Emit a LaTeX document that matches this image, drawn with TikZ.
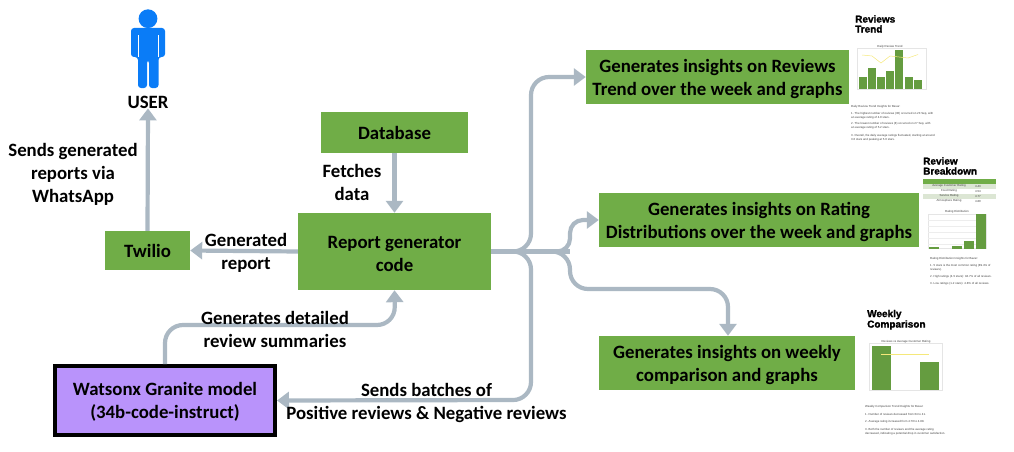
\documentclass[tikz,border=0pt]{standalone}
\usepackage{fontspec}
\setmainfont{Carlito}
\newfontfamily\thumbfont[BoldFeatures={FakeBold=1.6}]{Liberation Sans}
\usetikzlibrary{arrows.meta}
\definecolor{boxgreen}{HTML}{70AD47}
\definecolor{linkgrey}{HTML}{ABB8C3}
\definecolor{userblue}{HTML}{0A7CF7}
\definecolor{modelpurple}{HTML}{B993FB}
\definecolor{linegold}{HTML}{F5E87A}
\definecolor{rowgreen}{HTML}{DCE6D4}
\newcommand{\boxstrut}{\rule{0pt}{16.5pt}}
\tikzset{
  greenbox/.style={fill=boxgreen, inner sep=0pt, align=center, font=\fontsize{18.8}{23}\selectfont\bfseries},
  link/.style={draw=linkgrey, line width=4.2, rounded corners=18, -{Triangle[length=12,width=17]}},
  branch/.style={draw=linkgrey, line width=4.2, rounded corners=14},
  lbl/.style={align=center, inner sep=0pt, font=\fontsize{18.8}{23}\selectfont\bfseries},
  thumbtitle/.style={anchor=west, inner sep=0pt, font=\thumbfont\fontsize{10}{10}\selectfont\bfseries},
  tiny/.style={anchor=west, inner sep=0pt, text=black!75, font=\thumbfont\fontsize{2.9}{3}\selectfont},
}
\begin{document}
\begin{tikzpicture}[x=1pt,y=-1pt]
\useasboundingbox (0,0) rectangle (1014,452);

% boxes
\node[greenbox, minimum width=147, minimum height=41] (db) at (394.5,132.5) {Database};
\node[greenbox, minimum width=193, minimum height=77] (report) at (394.5,251.5) {\boxstrut Report generator\\code};
\node[greenbox, minimum width=85, minimum height=39] (twilio) at (147.5,250.5) {Twilio};
\node[greenbox, draw=black, fill=modelpurple, line width=4, minimum width=220, minimum height=69] (model) at (165,400.5) {\boxstrut Watsonx Granite model\\(34b-code-instruct)};
\node[greenbox, minimum width=263, minimum height=54] (trend) at (717.5,77) {\boxstrut Generates insights on Reviews\\Trend over the week and graphs};
\node[greenbox, minimum width=320, minimum height=54] (rating) at (759,220) {\boxstrut Generates insights on Rating\\Distributions over the week and graphs};
\node[greenbox, minimum width=256, minimum height=54] (weekly) at (727,363) {\boxstrut Generates insights on weekly\\comparison and graphs};
\node[lbl] (user) at (148,102) {USER};

% user figure
\fill[userblue] (148,18.7) circle (9.4);
\fill[userblue, rounded corners=3] (131,57) -- (131,28) -- (165,28) -- (165,57) -- (158.5,57) -- (158.5,88) -- (149,88) -- (149,60) -- (147,60) -- (147,88) -- (138,88) -- (138,57) -- cycle;
\fill[white] (137.5,35) rectangle (138.3,57);
\fill[white] (157.8,35) rectangle (158.6,57);

% links
\coordinate (fork) at (531,251.5);
\coordinate (fork2) at (570,251.5);
\draw[branch] (report.east) -- (fork2);
\draw[link] (report.east) -| (fork |- trend.west) -- (trend.west);
\draw[link, rounded corners=13] (report.east) -| (fork2 |- rating.west) -- (rating.west);
\draw[link] (report.east) -| (570,289) -| (weekly.north -| 728,336);
\draw[link] (report.east) -| (531,400) -- (model.east);
\draw[link] (db) -- (report);
\draw[link] (report.west) -- (twilio.east);
\draw[link] (twilio.north) -- (user.south);
\draw[link] (model.north) |- (395,325) -- (report.south);

% labels
\node[lbl] (sends) at (73,174.5) {Sends generated\\reports via\\WhatsApp};
\node[lbl] (fetch) at (352,182) {Fetches\\data};
\node[lbl] (gen) at (246,253) {Generated\\report};
\node[lbl] (detail) at (275,329.5) {Generates detailed\\review summaries};
\node[lbl] (batch) at (426.5,402.5) {Sends batches of\\Positive reviews \& Negative reviews};

% reviews trend thumbnail
\node[thumbtitle] (t1a) at (855,19) {Reviews};
\node[thumbtitle] (t1b) at (855,29) {Trend};
\draw[black!10, line width=.3] (857,48) rectangle (926,89);
\foreach \x/\top in {859/77,868/68,877/77,886/71,895/50,905/77,914/80}
  \fill[boxgreen!90!black] (\x,\top) rectangle (\x+7.5,89);
\draw[linegold, line width=.5] (862,55) -- (872,56) -- (881,63) -- (890,56) -- (899,57) -- (908,58) -- (918,54.5);
\node[tiny, anchor=center] (c1) at (890,47) {Daily Review Trend};
\node[tiny] (n1) at (851,107) {Daily Review Trend Insights for Bavar:};
\node[tiny] (n2) at (851,114) {1. The highest number of reviews (30) occurred on 23 Sep, with};
\node[tiny] (n3) at (851,118) {an average rating of 4.0 stars.};
\node[tiny] (n4) at (851,124) {2. The lowest number of reviews (8) occurred on 27 Sep, with};
\node[tiny] (n5) at (851,128) {an average rating of 5.2 stars.};
\node[tiny] (n6) at (851,136) {3. Overall, the daily average ratings fluctuated, starting at around};
\node[tiny] (n7) at (851,140) {3.6 stars and peaking at 5.0 stars.};

% review breakdown thumbnail
\node[thumbtitle] (t2a) at (923,161) {Review};
\node[thumbtitle] (t2b) at (923,171) {Breakdown};
\fill[boxgreen] (923,179) rectangle (996,184);
\fill[rowgreen] (923,184) rectangle (996,189);
\fill[rowgreen] (923,194) rectangle (996,199);
\foreach \y/\lab/\val in {186.5/Average Customer Rating/4.43,191.5/Food Rating/4.54,196.5/Service Rating/4.77,201.5/Atmosphere Rating/4.80}{
  \node[tiny, anchor=center] at (949,\y-.3) {\lab};
  \node[tiny, anchor=center] at (978,\y-.3) {\val};
}
\draw[black!10, line width=.3] (928,214) rectangle (986,248);
\foreach \y in {220,226,232,238,244} \draw[black!7, line width=.2] (928,\y) -- (986,\y);
\foreach \x/\top in {929/247,952/246,964/241,976/214}
  \fill[boxgreen!90!black] (\x,\top) rectangle (\x+9.8,248.5);
\node[tiny, anchor=center] (c2) at (957,211.5) {Rating Distribution};
\node[tiny] (r1) at (930,259) {Rating Distribution Insights for Bavar:};
\node[tiny] (r2) at (930,266) {1. 5 stars is the most common rating (89.4\% of};
\node[tiny] (r3) at (930,270) {reviews).};
\node[tiny] (r4) at (930,277) {2. High ratings (4-5 stars): 94.7\% of all reviews.};
\node[tiny] (r5) at (930,284) {3. Low ratings (1-2 stars): 4.8\% of all reviews.};

% weekly comparison thumbnail
\node[thumbtitle] (t3a) at (867,314.5) {Weekly};
\node[thumbtitle] (t3b) at (867,325) {Comparison};
\draw[black!10, line width=.3] (869,343) rectangle (942,390);
\fill[boxgreen!90!black] (872,346) rectangle (891,390);
\fill[boxgreen!90!black] (920,362) rectangle (939,390);
\draw[linegold, line width=.5] (881,354) -- (929,354);
\node[tiny, anchor=center] (c3) at (906,342) {Reviews vs Average Customer Rating};
\node[tiny] (w1) at (865,407) {Weekly Comparison Trend Insights for Bavar:};
\node[tiny] (w2) at (865,414) {1. Number of reviews decreased from 64 to 41.};
\node[tiny] (w3) at (865,422) {2. Average rating increased from 4.70 to 4.88.};
\node[tiny] (w4) at (865,430) {3. Both the number of reviews and the average rating};
\node[tiny] (w5) at (865,434) {decreased, indicating a potential drop in customer satisfaction.};
\end{tikzpicture}
\end{document}
